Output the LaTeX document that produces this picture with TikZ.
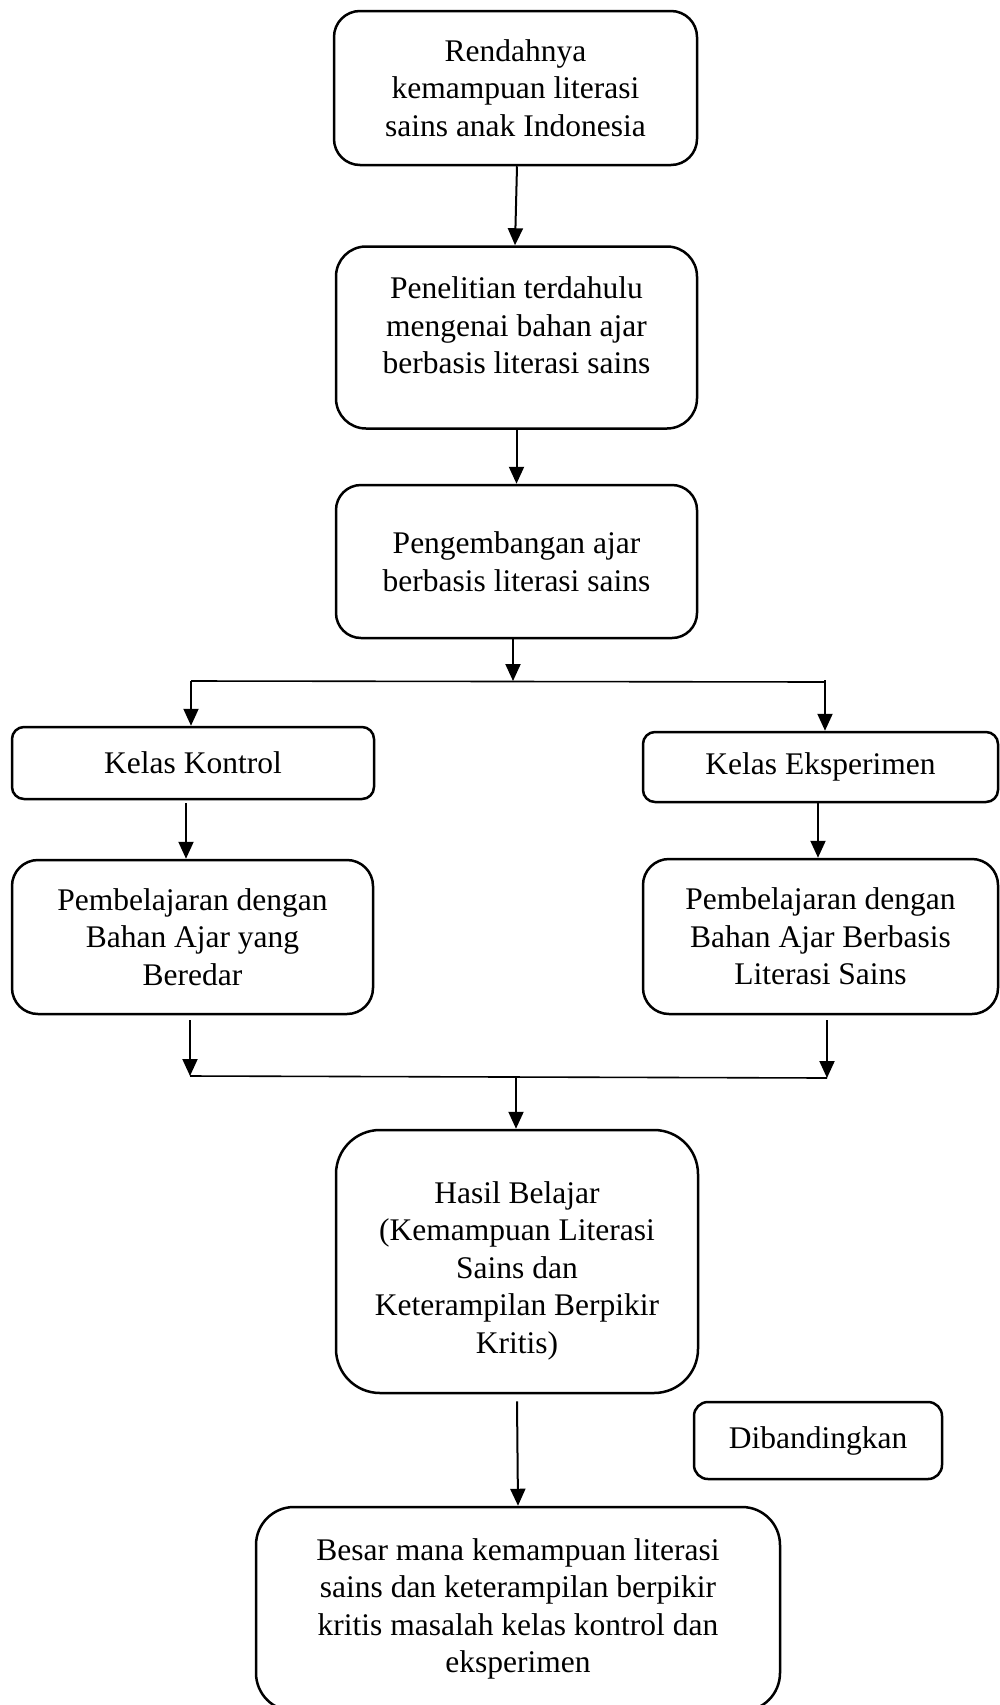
\documentclass[tikz,border=0pt]{standalone}
\usepackage{fontspec}
\setmainfont{Liberation Serif}
\usetikzlibrary{arrows.meta}
\tikzset{
  box/.style={draw, line width=2.5pt, rounded corners=#1, inner sep=0pt,
    align=center, font=\fontsize{31.5}{37.5}\selectfont},
  box/.default=25pt,
  arr/.style={line width=2pt, -{Triangle[length=17pt,width=15pt]}},
  ln/.style={line width=1.6pt}
}
\begin{document}
\begin{tikzpicture}[x=1pt,y=-1pt]
\useasboundingbox (0,0) rectangle (1000,1705);
% boxes
\node[box=26pt, minimum width=363pt, minimum height=154pt] (n1) at (515.5,88)
  {Rendahnya\\kemampuan literasi\\sains anak Indonesia};
\node[box=30pt, minimum width=361pt, minimum height=182pt] (n2) at (516.5,337.5)
  {Penelitian terdahulu\\mengenai bahan ajar\\berbasis literasi sains\\[-13pt]~};
\node[box=25pt, minimum width=361pt, minimum height=153pt] (n3) at (516.5,561.5)
  {Pengembangan ajar\\berbasis literasi sains};
\node[box=12pt, minimum width=362pt, minimum height=72pt] (kk) at (193,763)
  {Kelas Kontrol};
\node[box=12pt, minimum width=355pt, minimum height=70pt] (ke) at (820.5,767)
  {Kelas Eksperimen};
\node[box=26pt, minimum width=361pt, minimum height=154pt] (pk) at (192.5,937)
  {Pembelajaran dengan\\Bahan Ajar yang\\Beredar};
\node[box=26pt, minimum width=355pt, minimum height=155pt] (pe) at (820.5,936.5)
  {Pembelajaran dengan\\Bahan Ajar Berbasis\\Literasi Sains};
\node[box=44pt, minimum width=362pt, minimum height=263pt] (hb) at (517,1261.5)
  {\rule{0pt}{40pt}Hasil Belajar\\(Kemampuan Literasi\\Sains dan\\Keterampilan Berpikir\\Kritis)};
\node[box=14pt, minimum width=248pt, minimum height=77pt] (db) at (818,1440.5)
  {Dibandingkan};
\node[box=38pt, minimum width=524pt, minimum height=204pt] (fb) at (518,1609)
  {Besar mana kemampuan literasi\\sains dan keterampilan berpikir\\kritis masalah kelas kontrol dan\\eksperimen};
% split / merge points
\coordinate (s1) at (513,681);
\coordinate (sL) at (191,681);
\coordinate (sR) at (825,682);
\coordinate (m1) at (516,1077);
\coordinate (mL) at (190,1076);
\coordinate (mR) at (827,1078);
% connectors
\draw[arr] ([xshift=1.5pt]n1.south) -- ([xshift=-1.5pt]n2.north);
\draw[arr] (n2.south) -- (n3.south |- n3.north);
\draw[arr] (n3.south -| s1) -- (s1);
\draw[ln] (sL) -- (sR);
\draw[arr] (sL) -- (sL |- kk.north);
\draw[arr] ([yshift=2pt]sR) -- (sR |- ke.north);
\draw[arr] ([xshift=-7pt,yshift=-3pt]kk.south) -- ([xshift=-6.5pt]pk.north);
\draw[arr] ([xshift=-2.5pt]ke.south) -- ([xshift=-2.5pt]pe.north);
\draw[arr] ([xshift=-2.5pt,yshift=-5pt]pk.south) -- (mL);
\draw[arr] ([xshift=6.5pt,yshift=-5pt]pe.south) -- (mR);
\draw[ln] (mL) -- (mR);
\draw[arr] (m1) -- (m1 |- hb.north);
\draw[arr] ([yshift=-7pt]hb.south) -- (fb.north);
\end{tikzpicture}
\end{document}
